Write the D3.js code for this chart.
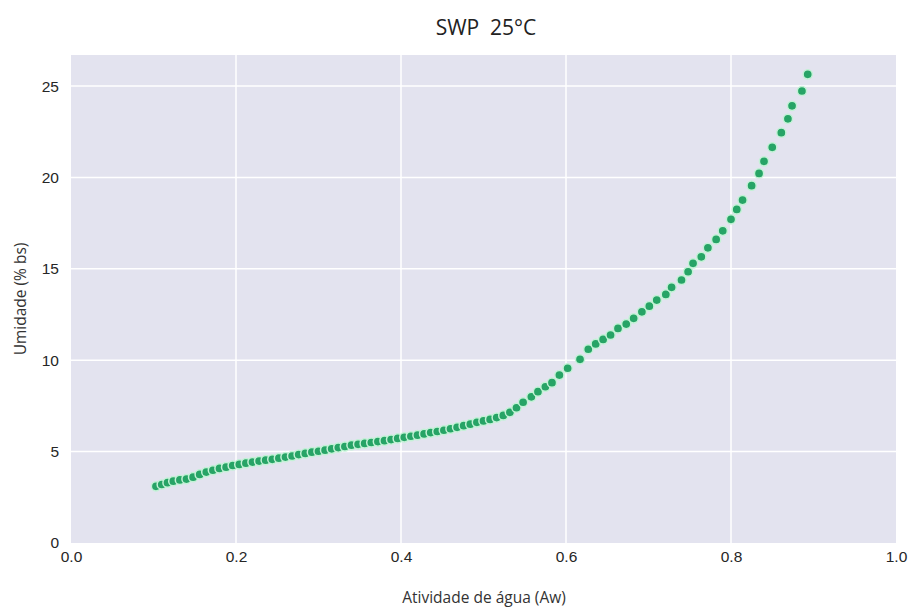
<!DOCTYPE html>
<html>
<head>
<meta charset="utf-8">
<script src="https://d3js.org/d3.v7.min.js"></script>
<style>
  body { margin: 0; background: #fff; }
  .tick text { font-family: "Liberation Sans Narrow", "Liberation Sans", Arial, sans-serif; font-size: 15.5px; fill: #262626; }
  .title { font-family: "Open Sans", sans-serif; font-size: 21px; fill: #222; white-space: pre; }
  .axlabel { font-family: "Open Sans", sans-serif; font-size: 15.5px; fill: #333; }
</style>
</head>
<body>
<svg id="chart" width="909" height="612"></svg>
<script>
// water activity (Aw) readings
const aw = [
  0.103, 0.110, 0.117, 0.124, 0.132, 0.140, 0.148, 0.156, 0.164, 0.172,
  0.180, 0.188, 0.196, 0.204, 0.212, 0.220, 0.228, 0.236, 0.244, 0.252,
  0.260, 0.268, 0.276, 0.284, 0.292, 0.300, 0.308, 0.316, 0.324, 0.332,
  0.340, 0.348, 0.356, 0.364, 0.372, 0.380, 0.388, 0.396, 0.404, 0.412,
  0.420, 0.428, 0.436, 0.444, 0.452, 0.460, 0.468, 0.476, 0.484, 0.492,
  0.500, 0.508, 0.516, 0.524, 0.532, 0.540, 0.548, 0.558, 0.566, 0.575,
  0.583, 0.592, 0.602, 0.617, 0.627, 0.636, 0.645, 0.654, 0.663, 0.673,
  0.682, 0.692, 0.701, 0.710, 0.721, 0.728, 0.740, 0.748, 0.754, 0.764,
  0.772, 0.782, 0.790, 0.800, 0.807, 0.814, 0.825, 0.834, 0.840, 0.850,
  0.861, 0.869, 0.874, 0.886, 0.893
];
// moisture, % dry basis
const umidade = [
  3.10, 3.20, 3.30, 3.38, 3.45, 3.50, 3.60, 3.75, 3.88, 3.98,
  4.08, 4.15, 4.24, 4.30, 4.37, 4.43, 4.48, 4.53, 4.58, 4.64,
  4.70, 4.76, 4.84, 4.90, 4.97, 5.02, 5.08, 5.15, 5.22, 5.28,
  5.35, 5.40, 5.45, 5.50, 5.55, 5.60, 5.66, 5.72, 5.78, 5.84,
  5.90, 5.97, 6.04, 6.10, 6.17, 6.25, 6.33, 6.42, 6.50, 6.60,
  6.68, 6.76, 6.86, 6.98, 7.15, 7.40, 7.70, 8.00, 8.28, 8.55,
  8.77, 9.19, 9.56, 10.05, 10.60, 10.89, 11.14, 11.38, 11.74, 11.98,
  12.29, 12.65, 12.96, 13.29, 13.60, 13.99, 14.39, 14.84, 15.30, 15.66,
  16.15, 16.61, 17.08, 17.71, 18.25, 18.76, 19.55, 20.22, 20.88, 21.65,
  22.45, 23.21, 23.92, 24.73, 25.64
];
const xTicks = [0, 0.2, 0.4, 0.6, 0.8, 1.0];
const yTicks = [0, 5, 10, 15, 20, 25];

const svg = d3.select("#chart")
const margin = {left: 71, right: 13, top: 55, bottom: 69}
const W = 909, H = 612

let x = d3.scaleLinear().domain([0, 1]).range([margin.left, W - margin.right])
let y = d3.scaleLinear().domain([0, 26.7]).range([H - margin.bottom, margin.top])

// background
svg.append("rect")
  .attr("x", margin.left).attr("y", margin.top)
  .attr("width", x(1) - x(0)).attr("height", y(0) - y(26.7))
  .attr("fill", "#e3e3ef")

// grid
svg.append("g").selectAll("line").data(xTicks.slice(1, -1)).join("line")
  .attr("x1", d => x(d)).attr("x2", d => x(d))
  .attr("y1", y(26.7)).attr("y2", y(0))
  .attr("stroke", "#fff").attr("stroke-width", 1.5)
svg.append("g").selectAll("line").data(yTicks.slice(1)).join("line")
  .attr("x1", x(0)).attr("x2", x(1))
  .attr("y1", d => y(d)).attr("y2", d => y(d))
  .attr("stroke", "#fff").attr("stroke-width", 1.5)

// axes (no lines, just labels)
let xAxis = svg.append("g")
  .attr("transform", "translate(0," + y(0) + ")")
  .call(d3.axisBottom(x).tickValues(xTicks).tickFormat(d3.format(".1f")).tickSize(0).tickPadding(8))
xAxis.select(".domain").remove()

let yAxis = svg.append("g")
  .attr("transform", "translate(" + x(0) + ",0)")
  .call(d3.axisLeft(y).tickValues(yTicks).tickFormat(d3.format("d")).tickSize(0).tickPadding(12))
yAxis.select(".domain").remove()

// points
const pts = aw.map((d, i) => ({aw: d, u: umidade[i]}))
svg.append("g").selectAll("circle").data(pts).join("circle")
  .attr("cx", d => x(d.aw))
  .attr("cy", d => y(d.u))
  .attr("r", 4.6)
  .attr("fill", "#27a466")
  .attr("stroke", "#c3f2d6")
  .attr("stroke-width", 1.5)

// titles
svg.append("text").attr("class", "title")
  .attr("x", 486).attr("y", 35).attr("text-anchor", "middle")
  .text("SWP  25°C")
svg.append("text").attr("class", "axlabel")
  .attr("x", 484).attr("y", 603).attr("text-anchor", "middle")
  .text("Atividade de água (Aw)")
svg.append("text").attr("class", "axlabel")
  .attr("transform", "translate(26," + ((y(0) + y(26.7)) / 2) + ") rotate(-90)")
  .attr("text-anchor", "middle")
  .text("Umidade (% bs)")
</script>
</body>
</html>
